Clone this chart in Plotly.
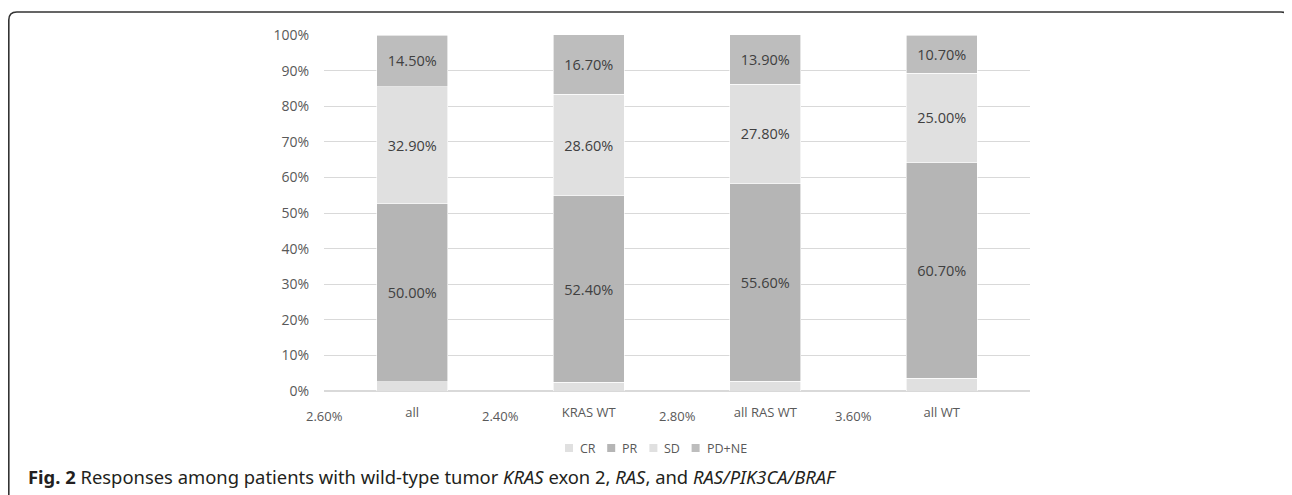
import plotly.graph_objects as go

categories = ["all", "KRAS WT", "all RAS WT", "all WT"]
cr = [2.6, 2.4, 2.8, 3.6]
pr = [50.0, 52.4, 55.6, 60.7]
sd = [32.9, 28.6, 27.8, 25.0]
pd_ne = [14.5, 16.7, 13.9, 10.7]
series_names = ["CR", "PR", "SD", "PD+NE"]
yticks = [0, 10, 20, 30, 40, 50, 60, 70, 80, 90, 100]

OFF = 8  # page body margin
W, H = 1292 - OFF, 495 - OFF
L, R, T, B = 324 - OFF, 1030 - OFF, 35 - OFF, 391 - OFF

def px(x):  # reference page x -> paper
    return (x - OFF - L) / (R - L)

def py(y):  # reference page y -> paper
    return (B - (y - OFF)) / (B - T)

FONT = "Open Sans"
TXT = "#595959"
colors = ["#e0e0e0", "#b5b5b5", "#e0e0e0", "#bdbdbd"]

fig = go.Figure()
for name, vals, col in zip(series_names, [cr, pr, sd, pd_ne], colors):
    lab = name != "CR"
    fig.add_trace(go.Bar(
        name=name, x=categories, y=[v / 100 for v in vals],
        marker=dict(color=col, line=dict(color="white", width=0.6)),
        text=[f"{v:.2f}%" for v in vals] if lab else None,
        textposition="inside" if lab else "none",
        insidetextanchor="middle", constraintext="none",
        textfont=dict(color="#404040", size=14.5, family=FONT),
        hoverinfo="skip", showlegend=False,
    ))

# CR labels sit below the axis, shifted half a category left
for c, v in zip(categories, cr):
    fig.add_annotation(x=c, y=0, xref="x", yref="y", text=f"{v:.2f}%",
                       showarrow=False, xshift=-88, yanchor="middle", yshift=-25,
                       font=dict(color=TXT, size=13, family=FONT))

# custom legend
lx = 565
for name, col in zip(series_names, colors):
    fig.add_shape(type="rect", xref="paper", yref="paper",
                  x0=px(lx), x1=px(lx + 8), y0=py(452), y1=py(444),
                  fillcolor=col, line=dict(width=0))
    fig.add_annotation(x=px(lx + 13), y=py(448), xref="paper", yref="paper",
                       xanchor="left", yanchor="middle", showarrow=False, text=name,
                       font=dict(color=TXT, size=12.5, family=FONT))
    lx += 8 + 6 + len(name) * 8.6 + 11

# rounded border
x0, x1, y0, y1, r = px(8.8), px(1289), py(12), py(530), 8
rx, ry = r / (R - L), r / (B - T)
path = (f"M {x0},{y1} L {x0},{y0 - ry} Q {x0},{y0} {x0 + rx},{y0} "
        f"L {x1 - rx},{y0} Q {x1},{y0} {x1},{y0 - ry} L {x1},{y1}")
fig.add_shape(type="path", path=path, xref="paper", yref="paper",
              line=dict(color="#333333", width=1.6))

fig.add_annotation(x=px(26), y=py(476), xref="paper", yref="paper",
                   xanchor="left", yanchor="middle", showarrow=False,
                   text="<b>Fig. 2</b> Responses among patients with wild-type tumor <i>KRAS</i> exon 2, <i>RAS</i>, and <i>RAS/PIK3CA/BRAF</i>",
                   font=dict(color="#231f20", size=18.4, family="Noto Sans"))

fig.update_layout(
    width=W, height=H, barmode="stack", bargap=0.6,
    margin=dict(l=L, r=W - R, t=T, b=H - B, autoexpand=False),
    paper_bgcolor="white", plot_bgcolor="white",
    font=dict(family=FONT, color=TXT, size=13),
    showlegend=False,
    xaxis=dict(range=[-0.5, 3.5], showgrid=False, showline=False, ticks="",
               ticklabelstandoff=12, tickfont=dict(size=13, color=TXT)),
    yaxis=dict(range=[0, 1], tickvals=[v / 100 for v in yticks],
               ticktext=[f"{v}%" for v in yticks],
               showgrid=True, gridcolor="#d9d9d9", gridwidth=1,
               zeroline=True, zerolinecolor="#d9d9d9", zerolinewidth=1.5,
               ticklabelstandoff=14, tickfont=dict(size=14, color=TXT)),
)

fig.write_html("out.html")
